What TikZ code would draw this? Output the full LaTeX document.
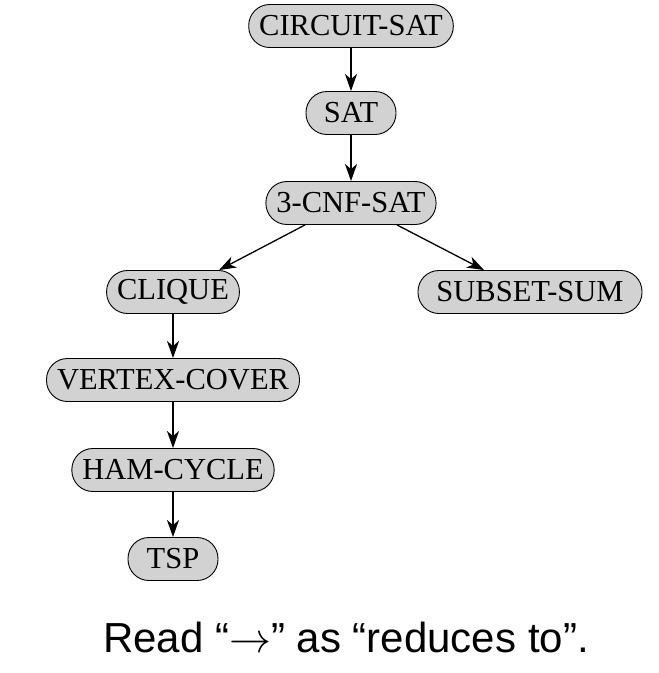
\RequirePackage{fix-cm}
\documentclass[tikz,border=0pt]{standalone}
\usepackage{fontspec}
\setmainfont{Liberation Serif}
\setsansfont{Liberation Sans}
\usetikzlibrary{arrows.meta}

\tikzset{
    prob/.style={draw=black, fill=gray!35, line width=0.9pt, rounded corners=21pt,
        minimum height=43pt, minimum width=90pt, inner xsep=10.5pt, inner ysep=0pt,
        font=\fontsize{30.5}{34}\selectfont},
    red/.style={-{Stealth[length=17pt, width=12pt, inset=5pt]}, line width=1.3pt},
}

\begin{document}
\begin{tikzpicture}[x=1pt, y=-1pt]

    % Page size
    \def\xmax{659}
    \def\ymax{673}
    \def\dx{46}
    \useasboundingbox (0, 0) rectangle (\xmax, \ymax);

    % Problems
    \node[prob] (circuit) at (351, 26) {CIRCUIT-SAT};
    \node[prob] (sat) at (351, 113) {SAT};
    \node[prob] (cnf) at (351, 203) {3-CNF-SAT};
    \node[prob] (clique) at (173, 292) {CLIQUE};
    \node[prob, minimum width=224pt] (subset) at (530, 292) {SUBSET-SUM};
    \node[prob] (vertex) at (173, 380) {VERTEX-COVER};
    \node[prob] (ham) at (173, 470) {HAM-CYCLE};
    \node[prob] (tsp) at (173, 559) {TSP};

    % Reductions
    \draw[red] (circuit) -- (sat);
    \draw[red] (sat) -- (cnf);
    \draw[red] ([xshift=-\dx]cnf.south) -- ([xshift=\dx]clique.north);
    \draw[red] ([xshift=\dx]cnf.south) -- ([xshift=-\dx]subset.north);
    \draw[red] (clique) -- (vertex);
    \draw[red] (vertex) -- (ham);
    \draw[red] (ham) -- (tsp);

    % Caption
    \node[font=\sffamily\fontsize{42}{46}\selectfont] (caption) at (346, 637)
        {Read ``$\rightarrow$'' as ``reduces to''.};

\end{tikzpicture}
\end{document}
